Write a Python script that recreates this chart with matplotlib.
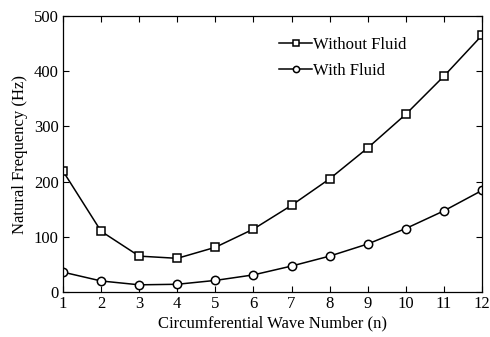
import matplotlib
matplotlib.use("Agg")
import matplotlib.pyplot as plt

wave_number = [1, 2, 3, 4, 5, 6, 7, 8, 9, 10, 11, 12]
without_fluid = [219, 110, 65, 61, 81, 114, 157, 205, 261, 322, 391, 465]
with_fluid = [36, 20, 13, 14, 21, 31, 47, 65, 87, 115, 147, 184]

plt.rcParams["font.family"] = ["Liberation Serif", "DejaVu Serif"]
plt.rcParams["font.size"] = 11

fig = plt.figure(figsize=(4.9, 3.37), dpi=100)
ax = fig.add_axes([63 / 490, 1 - 292 / 337, (482 - 63) / 490, (292 - 16) / 337])

ax.plot(wave_number, without_fluid, color="black", lw=1.1, marker="s", ms=6,
        mfc="white", mec="black", mew=1.1, label="Without Fluid")
ax.plot(wave_number, with_fluid, color="black", lw=1.1, marker="o", ms=6,
        mfc="white", mec="black", mew=1.1, label="With Fluid")

ax.set_xlim(1, 12)
ax.set_ylim(0, 500)
ax.set_xticks(wave_number)
ax.set_yticks([0, 100, 200, 300, 400, 500])
ax.tick_params(direction="in", top=True, right=True, length=4, width=0.8,
               labelsize=12, pad=3)
for s in ax.spines.values():
    s.set_linewidth(0.9)

ax.set_xlabel("Circumferential Wave Number (n)", fontsize=12, labelpad=2)
ax.set_ylabel("Natural Frequency (Hz)", fontsize=12, labelpad=4)

ax.legend(loc="upper left", bbox_to_anchor=(0.48, 0.98), frameon=False,
          fontsize=12, handlelength=2.0, handletextpad=0.05, labelspacing=0.6,
          markerscale=0.75)

fig.savefig("out.png", dpi=100)
